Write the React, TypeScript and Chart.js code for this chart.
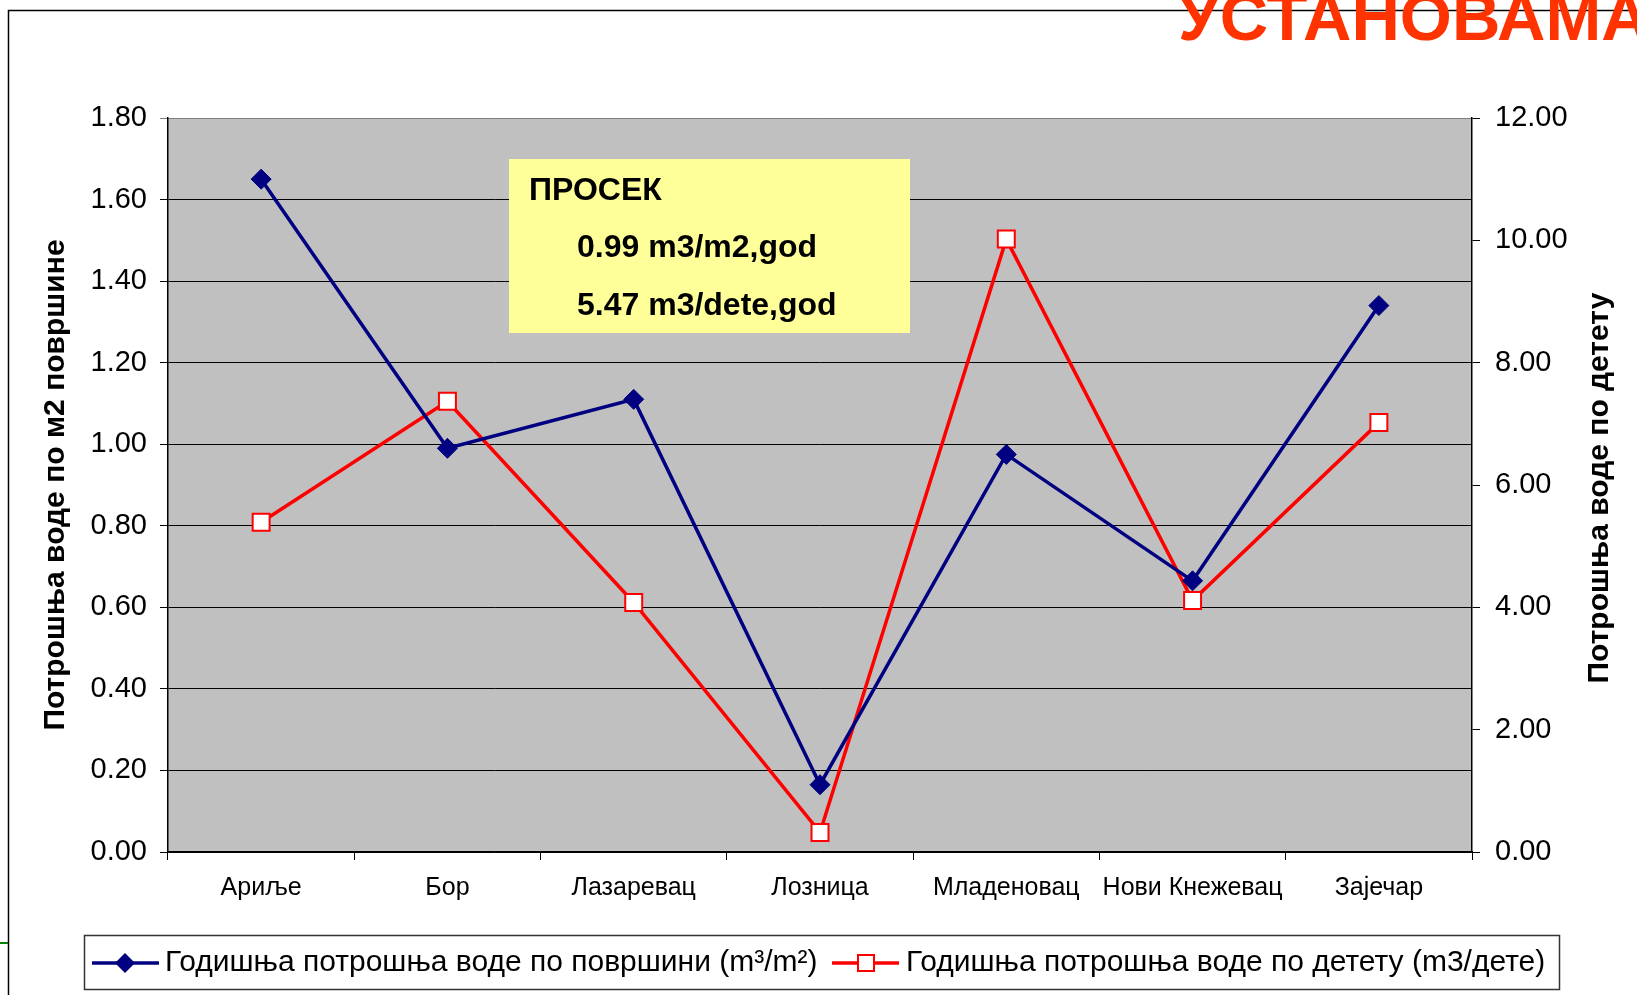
import React, { useEffect, useRef } from 'react';
import { Chart, registerables } from 'chart.js';

Chart.register(...registerables);

const categories = ['Ариље', 'Бор', 'Лазаревац', 'Лозница', 'Младеновац', 'Нови Кнежевац', 'Зајечар'];
const perArea = [1.65, 0.99, 1.11, 0.165, 0.975, 0.665, 1.34];
const perChild = [5.39, 7.37, 4.08, 0.32, 10.02, 4.11, 7.02];
const seriesNames = [
  'Годишња потрошња воде по површини (m³/m²)',
  'Годишња потрошња воде по детету (m3/дете)',
];
const leftAxisTitle = 'Потрошња воде по м2 површине';
const rightAxisTitle = 'Потрошња воде по детету';
const averageLines = ['ПРОСЕК', '0.99 m3/m2,god', '5.47 m3/dete,god'];
const headline = 'УСТАНОВАМА';

const FONT = '"Liberation Sans", Arial, sans-serif';
const BLUE = '#000080';
const RED = '#FF0000';

function drawDiamond(ctx: CanvasRenderingContext2D, x: number, y: number, r: number) {
  ctx.beginPath();
  ctx.moveTo(x, y - r);
  ctx.lineTo(x + r, y);
  ctx.lineTo(x, y + r);
  ctx.lineTo(x - r, y);
  ctx.closePath();
  ctx.fillStyle = BLUE;
  ctx.fill();
}

function drawSquare(ctx: CanvasRenderingContext2D, x: number, y: number, h: number) {
  ctx.fillStyle = '#fff';
  ctx.fillRect(x - h, y - h, 2 * h, 2 * h);
  ctx.strokeStyle = RED;
  ctx.lineWidth = 2;
  ctx.strokeRect(x - h, y - h, 2 * h, 2 * h);
}

const decorPlugin = {
  id: 'decor',
  beforeDraw(chart: any) {
    const { ctx, chartArea: a, width, height } = chart;
    ctx.save();
    ctx.fillStyle = '#fff';
    ctx.fillRect(0, 0, width, height);
    ctx.fillStyle = '#C0C0C0';
    ctx.fillRect(a.left, a.top, a.right - a.left, a.bottom - a.top);
    ctx.strokeStyle = '#000';
    ctx.lineWidth = 1.5;
    ctx.beginPath();
    ctx.moveTo(8.5, height);
    ctx.lineTo(8.5, 10.5);
    ctx.lineTo(width, 10.5);
    ctx.stroke();
    ctx.strokeStyle = '#008000';
    ctx.lineWidth = 2;
    ctx.beginPath();
    ctx.moveTo(0, 943);
    ctx.lineTo(8, 943);
    ctx.stroke();
    ctx.fillStyle = '#FF3300';
    ctx.font = `bold 67px ${FONT}`;
    ctx.textBaseline = 'alphabetic';
    ctx.textAlign = 'left';
    ctx.fillText(headline, 1178, 40);
    ctx.restore();
  },
  afterDraw(chart: any) {
    const { ctx, chartArea: a } = chart;
    ctx.save();
    // axis titles
    const cy = (a.top + a.bottom) / 2;
    ctx.fillStyle = '#000';
    ctx.font = `bold 30px ${FONT}`;
    ctx.textAlign = 'center';
    ctx.textBaseline = 'middle';
    ctx.save();
    ctx.translate(56, cy);
    ctx.rotate(-Math.PI / 2);
    ctx.fillText(leftAxisTitle, 0, 0);
    ctx.restore();
    ctx.save();
    ctx.translate(1600, cy + 3);
    ctx.rotate(-Math.PI / 2);
    ctx.fillText(rightAxisTitle, 0, 0);
    ctx.restore();

    // average box
    ctx.fillStyle = '#FFFF99';
    ctx.fillRect(509, 159, 401, 174);
    ctx.fillStyle = '#000';
    ctx.font = `bold 32px ${FONT}`;
    ctx.textAlign = 'left';
    ctx.textBaseline = 'alphabetic';
    ctx.fillText(averageLines[0], 529, 200);
    ctx.fillText(averageLines[1], 577, 257);
    ctx.fillText(averageLines[2], 577, 315);

    // legend
    ctx.fillStyle = '#fff';
    ctx.fillRect(84, 935, 1475, 55);
    ctx.strokeStyle = '#333';
    ctx.lineWidth = 1.5;
    ctx.strokeRect(84.5, 935.5, 1475, 54);
    const ly = 963;
    ctx.lineWidth = 3.5;
    ctx.strokeStyle = BLUE;
    ctx.beginPath();
    ctx.moveTo(92, ly);
    ctx.lineTo(159, ly);
    ctx.stroke();
    drawDiamond(ctx, 125, ly, 10);
    ctx.strokeStyle = RED;
    ctx.lineWidth = 3.5;
    ctx.beginPath();
    ctx.moveTo(832, ly);
    ctx.lineTo(899, ly);
    ctx.stroke();
    drawSquare(ctx, 866, ly, 8);
    ctx.fillStyle = '#000';
    ctx.font = `30px ${FONT}`;
    ctx.textBaseline = 'middle';
    ctx.fillText(seriesNames[0], 165, ly);
    ctx.fillText(seriesNames[1], 906, ly);
    ctx.restore();
  },
};

export default function App() {
  const ref = useRef<HTMLCanvasElement>(null);
  useEffect(() => {
    document.body.style.margin = '0';
    const canvas = ref.current!;
    const chart = new Chart(canvas, {
      type: 'line',
      data: {
        labels: categories,
        datasets: [
          {
            label: seriesNames[0],
            data: perArea,
            yAxisID: 'y',
            borderColor: BLUE,
            backgroundColor: BLUE,
            borderWidth: 3.5,
            pointStyle: 'rectRot',
            pointRadius: 10,
            pointBackgroundColor: BLUE,
            pointBorderColor: BLUE,
            pointBorderWidth: 1,
            tension: 0,
          },
          {
            label: seriesNames[1],
            data: perChild,
            yAxisID: 'y1',
            borderColor: RED,
            backgroundColor: '#fff',
            borderWidth: 3.5,
            pointStyle: 'rect',
            pointRadius: 12,
            pointBackgroundColor: '#fff',
            pointBorderColor: RED,
            pointBorderWidth: 2,
            tension: 0,
          },
        ],
      },
      options: {
        responsive: false,
        animation: false,
        layout: { padding: { top: 118, left: 0, right: 0, bottom: 0 } },
        plugins: { legend: { display: false }, tooltip: { enabled: false } },
        scales: {
          x: {
            type: 'category',
            offset: true,
            grid: { offset: true, drawOnChartArea: false, tickLength: 8, color: '#000' },
            border: { color: '#000', width: 1.5 },
            ticks: { color: '#000', font: { family: FONT, size: 25 }, padding: 13, maxRotation: 0, autoSkip: false },
            afterFit: (s: any) => { s.height = 143; },
          },
          y: {
            position: 'left',
            min: 0,
            max: 1.8,
            grid: {
              color: (c: any) => (c.tick && Math.abs(c.tick.value - 1.8) < 1e-6 ? '#808080' : '#000'),
              tickLength: 8,
              lineWidth: 1,
            },
            border: { color: '#000', width: 1.5 },
            ticks: {
              stepSize: 0.2,
              color: '#000',
              font: { family: FONT, size: 29 },
              padding: 13,
              callback: (v: any) => Number(v).toFixed(2),
            },
            afterFit: (s: any) => { s.width = 168; },
          },
          y1: {
            position: 'right',
            min: 0,
            max: 12,
            grid: { drawOnChartArea: false, tickLength: 8, color: '#000' },
            border: { color: '#000', width: 1.5 },
            ticks: {
              stepSize: 2,
              color: '#000',
              font: { family: FONT, size: 29 },
              padding: 15,
              callback: (v: any) => Number(v).toFixed(2),
            },
            afterFit: (s: any) => { s.width = 165; },
          },
        },
      },
      plugins: [decorPlugin],
    });
    return () => chart.destroy();
  }, []);
  return <canvas ref={ref} width={1637} height={995} style={{ display: 'block' }} />;
}
